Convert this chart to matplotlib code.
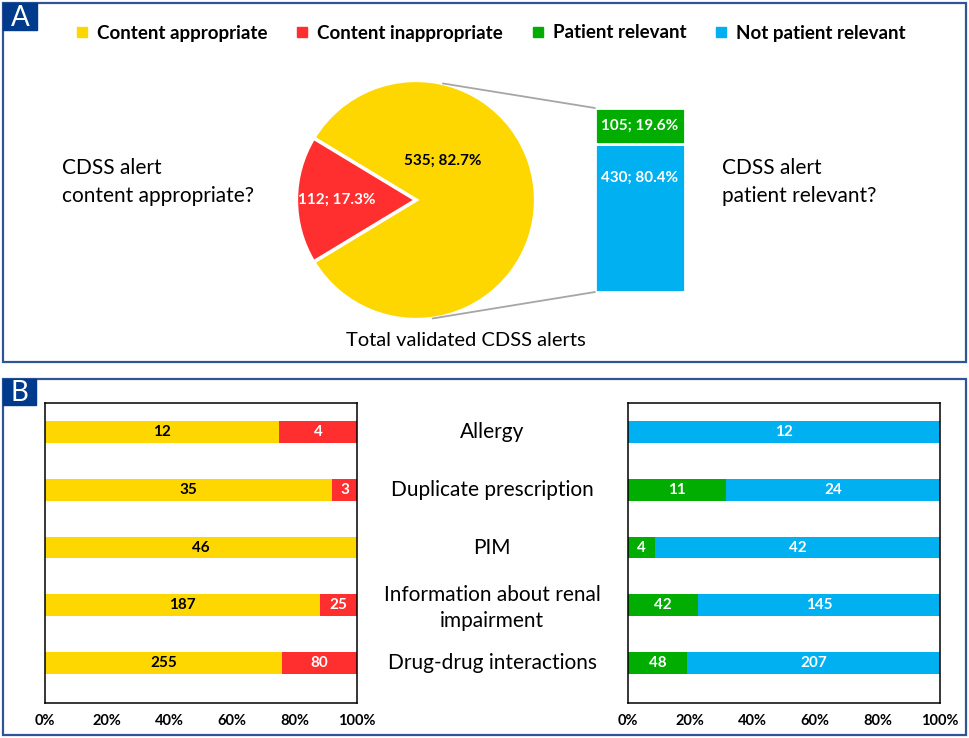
import numpy as np
import matplotlib.pyplot as plt
from matplotlib.patches import Rectangle, ConnectionPatch
from matplotlib.lines import Line2D
import matplotlib.transforms as mtransforms

plt.rcParams['font.family'] = ['Lato', 'DejaVu Sans']

# data
pie_labels = ['Content appropriate', 'Content inappropriate']
pie_values = [535, 112]
sub_labels = ['Patient relevant', 'Not patient relevant']
sub_values = [105, 430]

categories = ['Allergy', 'Duplicate prescription', 'PIM',
              'Information about renal\nimpairment', 'Drug-drug interactions']
appropriate = [12, 35, 46, 187, 255]
inappropriate = [4, 3, 0, 25, 80]
relevant = [0, 11, 4, 42, 48]
not_relevant = [12, 24, 42, 145, 207]

YELLOW = '#FFD700'
RED = '#FF2F2F'
GREEN = '#00AD00'
BLUE = '#00B0F0'
FRAME = '#2F5597'
DARK = '#003A8C'

W, H = 969, 738
fig = plt.figure(figsize=(W / 100, H / 100), dpi=100)


def px(x0, y0, x1, y1):
    # pixel box (top-left origin) -> figure fraction rect
    return [x0 / W, 1 - y1 / H, (x1 - x0) / W, (y1 - y0) / H]


# panel frames and letters
for box, letter, lbox in [((3, 3, 966, 362), 'A', (3, 3, 37, 30)),
                          ((3, 379, 966, 735), 'B', (3, 379, 36, 405))]:
    r = px(*box)
    fig.patches.append(Rectangle((r[0], r[1]), r[2], r[3], transform=fig.transFigure,
                                 fill=False, edgecolor=FRAME, linewidth=1.6))
    r = px(*lbox)
    fig.patches.append(Rectangle((r[0], r[1]), r[2], r[3], transform=fig.transFigure,
                                 facecolor=DARK, edgecolor=DARK))
    fig.text(r[0] + r[2] / 2, r[1] + r[3] / 2 - 0.002, letter, color='white',
             fontsize=20, ha='center', va='center')

# ---- panel A: pie ----
ax_pie = fig.add_axes(px(294, 78, 538, 322))
total = sum(pie_values)
red_angle = 360 * pie_values[1] / total
start = 180 + red_angle / 2 - 360
wedges, _ = ax_pie.pie(pie_values, colors=[YELLOW, RED], startangle=start,
                       counterclock=True,
                       wedgeprops=dict(edgecolor='white', linewidth=2.5))
ax_pie.set_xlim(-1.02, 1.02)
ax_pie.set_ylim(-1.02, 1.02)
ax_pie.set_aspect('equal')
ax_pie.axis('off')
pcts = [100 * v / total for v in pie_values]
ax_pie.text(0.22, 0.33, f'{pie_values[0]}; {pcts[0]:.1f}%', ha='center', va='center',
            fontsize=11, fontweight='bold', color='black')
ax_pie.text(-0.66, 0.0, f'{pie_values[1]}; {pcts[1]:.1f}%', ha='center', va='center',
            fontsize=11, fontweight='bold', color='white')

# bar of pie
ax_sub = fig.add_axes(px(595, 108, 685, 292))
sub_total = sum(sub_values)
ax_sub.bar(0, sub_values[1], width=1, color=BLUE, edgecolor='white', linewidth=2)
ax_sub.bar(0, sub_values[0], bottom=sub_values[1], width=1, color=GREEN,
           edgecolor='white', linewidth=2)
ax_sub.set_xlim(-0.5, 0.5)
ax_sub.set_ylim(0, sub_total)
ax_sub.axis('off')
ax_sub.text(0, sub_values[1] + sub_values[0] / 2,
            f'{sub_values[0]}; {100 * sub_values[0] / sub_total:.1f}%',
            ha='center', va='center', fontsize=11, fontweight='bold', color='white')
ax_sub.text(0, sub_values[1] * 0.77,
            f'{sub_values[1]}; {100 * sub_values[1] / sub_total:.1f}%',
            ha='center', va='center', fontsize=11, fontweight='bold', color='white')

for ang, yb in [(77, sub_total), (-82, 0)]:
    a = np.deg2rad(ang)
    con = ConnectionPatch(xyA=(np.cos(a), np.sin(a)), coordsA=ax_pie.transData,
                          xyB=(-0.5, yb), coordsB=ax_sub.transData,
                          color='#A6A6A6', linewidth=1.3)
    fig.add_artist(con)

fig.text(62 / W, 1 - 182 / H, 'CDSS alert\ncontent appropriate?', fontsize=15,
         ha='left', va='center', linespacing=1.45)
fig.text(722 / W, 1 - 182 / H, 'CDSS alert\npatient relevant?', fontsize=15,
         ha='left', va='center', linespacing=1.45)
fig.text(466 / W, 1 - 341 / H, 'Total validated CDSS alerts', fontsize=14.5,
         ha='center', va='center')

handles = [Line2D([], [], marker='s', linestyle='none', markersize=7, color=c)
           for c in [YELLOW, RED, GREEN, BLUE]]
fig.legend(handles, pie_labels + sub_labels, loc='center', ncol=4,
           bbox_to_anchor=(490 / W, 1 - 33 / H), frameon=False,
           prop=dict(size=13.5, weight='bold'), handlelength=0.8,
           handletextpad=0.4, columnspacing=1.45)

# ---- panel B ----
y = np.arange(len(categories))


def stacked(ax, first, second, c1, c2, t1, t2):
    first = np.array(first, dtype=float)
    second = np.array(second, dtype=float)
    tot = first + second
    f1 = first / tot
    f2 = second / tot
    ax.barh(y, f1, height=0.38, color=c1)
    ax.barh(y, f2, left=f1, height=0.38, color=c2)
    for i in range(len(y)):
        if first[i] > 0:
            ax.text(f1[i] / 2, y[i], f'{int(first[i])}', ha='center', va='center',
                    fontsize=11, fontweight='bold', color=t1)
        if second[i] > 0:
            ax.text(f1[i] + f2[i] / 2, y[i], f'{int(second[i])}', ha='center',
                    va='center', fontsize=11, fontweight='bold', color=t2)
    ax.set_xlim(0, 1)
    ax.set_ylim(4.69, -0.5)
    ax.set_yticks([])
    ax.set_xticks(np.linspace(0, 1, 6))
    ax.set_xticklabels([f'{int(v * 100)}%' for v in np.linspace(0, 1, 6)],
                       fontsize=10.5, fontweight='bold')
    ax.tick_params(axis='x', length=0, pad=8)
    for s in ax.spines.values():
        s.set_linewidth(1.1)


ax_l = fig.add_axes(px(45, 403, 357, 703))
stacked(ax_l, appropriate, inappropriate, YELLOW, RED, 'black', 'white')
ax_r = fig.add_axes(px(628, 403, 940, 703))
stacked(ax_r, relevant, not_relevant, GREEN, BLUE, 'white', 'white')

trans = mtransforms.blended_transform_factory(fig.transFigure, ax_l.transData)
for yi, cat in zip(y, categories):
    ax_l.text(492 / W, yi + (0.05 if '\n' in cat else 0), cat, transform=trans,
              ha='center', va='center', fontsize=15, linespacing=1.4)

fig.savefig('out.png', dpi=100)
